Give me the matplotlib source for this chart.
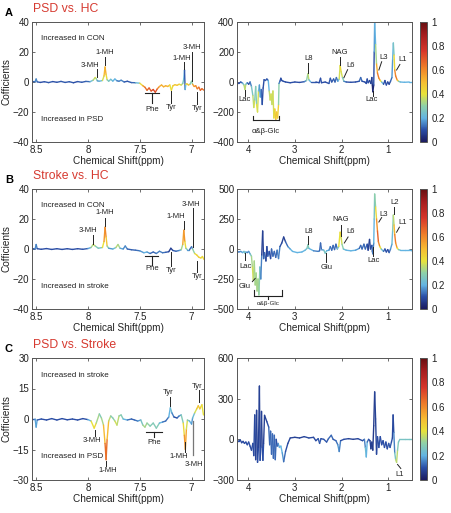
"""OPLS-DA coefficient plots (aromatic and aliphatic regions) for three comparisons."""

import matplotlib

matplotlib.use("Agg")
import matplotlib.pyplot as plt  # noqa: E402
import numpy as np  # noqa: E402
from matplotlib.collections import LineCollection  # noqa: E402
from matplotlib.colors import LinearSegmentedColormap, Normalize  # noqa: E402

plt.rcParams["font.family"] = ["Liberation Sans", "DejaVu Sans"]

# ---------------------------------------------------------------- data
# each spectrum: chemical shift (ppm), coefficient, |r| (colour)
A_aro_ppm = [
    8.54, 8.51, 8.50, 8.49, 8.46, 8.42, 8.38, 8.34, 8.30, 8.26,
    8.22, 8.18, 8.14, 8.10, 8.06, 8.02, 7.98, 7.95, 7.93, 7.92,
    7.91, 7.89, 7.86, 7.845, 7.835, 7.825, 7.815, 7.80, 7.78, 7.76,
    7.74, 7.72, 7.70, 7.68, 7.65, 7.62, 7.58, 7.54, 7.50, 7.47,
    7.45, 7.43, 7.41, 7.39, 7.37, 7.35, 7.33, 7.31, 7.29, 7.27,
    7.25, 7.23, 7.21, 7.195, 7.18, 7.16, 7.14, 7.12, 7.10, 7.085,
    7.075, 7.068, 7.062, 7.055, 7.045, 7.03, 7.015, 7.00, 6.99, 6.975,
    6.96, 6.945, 6.93, 6.915, 6.90, 6.88]
A_aro_coef = [
    0.3, 0.2, 2.0, 0.1, -0.3, 0.2, -0.4, 0.3, -0.2, 0.4,
    -0.3, 0.2, -0.5, 0.3, -0.2, 0.4, 0.2, 1.2, 3.0, 2.2,
    0.8, 0.5, 1.0, 4.0, 10.0, 5.0, 1.5, 0.5, 1.8, 0.6,
    2.0, 0.8, 0.5, 1.2, 0.0, 0.5, -0.4, -0.5, -0.8, -2.5,
    -3.5, -5.5, -4.0, -6.0, -5.0, -6.8, -4.5, -3.0, -2.0, -3.2,
    -2.5, -3.0, -2.0, -5.5, -2.5, -1.8, -2.2, -1.5, -2.0, -1.0,
    2.0, 8.0, -5.0, -1.5, -1.2, -2.0, -1.5, 0.5, -1.5, -3.0,
    -2.5, -4.5, -3.5, -5.5, -4.5, -5.5]
A_aro_corr = [
    0.12, 0.12, 0.2, 0.12, 0.1, 0.1, 0.12, 0.1, 0.1, 0.12,
    0.1, 0.12, 0.1, 0.1, 0.12, 0.1, 0.15, 0.3, 0.4, 0.38,
    0.2, 0.15, 0.3, 0.45, 0.55, 0.5, 0.35, 0.2, 0.3, 0.15,
    0.25, 0.15, 0.12, 0.2, 0.1, 0.12, 0.1, 0.15, 0.3, 0.55,
    0.6, 0.7, 0.65, 0.72, 0.7, 0.75, 0.65, 0.55, 0.5, 0.55,
    0.5, 0.55, 0.45, 0.35, 0.5, 0.45, 0.5, 0.45, 0.4, 0.3,
    0.2, 0.2, 0.02, 0.4, 0.45, 0.5, 0.45, 0.1, 0.5, 0.6,
    0.55, 0.65, 0.6, 0.7, 0.65, 0.65]

A_ali_ppm = [
    4.24, 4.20, 4.16, 4.12, 4.09, 4.07, 4.05, 4.02, 3.99, 3.96,
    3.93, 3.90, 3.88, 3.86, 3.84, 3.82, 3.80, 3.78, 3.76, 3.74,
    3.72, 3.70, 3.68, 3.66, 3.63, 3.60, 3.57, 3.55, 3.53, 3.51,
    3.49, 3.47, 3.45, 3.43, 3.41, 3.39, 3.37, 3.35, 3.34, 3.32,
    3.30, 3.28, 3.25, 3.20, 3.10, 3.00, 2.90, 2.80, 2.75, 2.72,
    2.70, 2.66, 2.55, 2.48, 2.45, 2.43, 2.35, 2.27, 2.24, 2.21,
    2.17, 2.14, 2.11, 2.08, 2.05, 2.03, 2.01, 1.98, 1.95, 1.90,
    1.80, 1.70, 1.62, 1.59, 1.56, 1.50, 1.47, 1.45, 1.43, 1.40,
    1.37, 1.35, 1.34, 1.33, 1.31, 1.30, 1.29, 1.27, 1.25, 1.23,
    1.20, 1.17, 1.14, 1.10, 1.07, 1.04, 1.01, 0.98, 0.95, 0.92,
    0.905, 0.89, 0.875, 0.86, 0.84, 0.81, 0.78, 0.74, 0.65, 0.55,
    0.49]
A_ali_coef = [
    -5, -10, 0, -8, -20, -50, -15, -5, -15, 0,
    -30, -90, -170, -120, -30, -150, -200, -60, -20, -100,
    -50, -150, -40, 15, 10, 20, 10, -60, -120, -80,
    -150, -60, -240, -180, -250, -200, -240, -150, -10, 5,
    25, 10, 5, 0, -5, 0, -3, 2, 10, 55,
    15, 0, 0, -5, 25, -5, 0, -10, 25, 0,
    20, 0, 30, 5, 20, 110, 70, 30, 5, 0,
    -2, 0, 5, 30, 5, 0, -10, 20, -5, 10,
    -10, 30, -20, -65, -20, 200, 400, 250, 120, 60,
    25, 10, 0, -15, 10, -20, 0, -15, 5, 30,
    150, 260, 180, 80, 40, 15, 5, 0, -2, 0,
    0]
A_ali_corr = [
    0.1, 0.1, 0.1, 0.15, 0.3, 0.4, 0.3, 0.15, 0.1, 0.1,
    0.2, 0.3, 0.4, 0.35, 0.2, 0.35, 0.45, 0.3, 0.15, 0.2,
    0.15, 0.1, 0.1, 0.1, 0.1, 0.12, 0.1, 0.3, 0.4, 0.35,
    0.4, 0.3, 0.45, 0.4, 0.5, 0.45, 0.5, 0.4, 0.2, 0.1,
    0.1, 0.1, 0.1, 0.1, 0.1, 0.1, 0.1, 0.1, 0.2, 0.4,
    0.3, 0.12, 0.1, 0.1, 0.1, 0.1, 0.1, 0.1, 0.12, 0.1,
    0.12, 0.1, 0.15, 0.12, 0.3, 0.45, 0.4, 0.35, 0.2, 0.1,
    0.1, 0.1, 0.1, 0.15, 0.1, 0.1, 0.1, 0.1, 0.1, 0.1,
    0.05, 0.1, 0.05, 0.02, 0.05, 0.15, 0.2, 0.2, 0.45, 0.6,
    0.65, 0.5, 0.3, 0.1, 0.1, 0.1, 0.1, 0.08, 0.1, 0.15,
    0.2, 0.2, 0.3, 0.55, 0.65, 0.6, 0.35, 0.2, 0.2, 0.2,
    0.2]

B_aro_ppm = [
    8.54, 8.51, 8.50, 8.49, 8.45, 8.40, 8.35, 8.30, 8.25, 8.20,
    8.15, 8.10, 8.05, 8.00, 7.97, 7.95, 7.93, 7.90, 7.86, 7.845,
    7.835, 7.825, 7.815, 7.80, 7.76, 7.73, 7.71, 7.69, 7.66, 7.64,
    7.62, 7.58, 7.54, 7.50, 7.46, 7.43, 7.40, 7.37, 7.34, 7.31,
    7.28, 7.25, 7.22, 7.20, 7.18, 7.15, 7.12, 7.10, 7.085, 7.075,
    7.065, 7.055, 7.04, 7.02, 7.00, 6.99, 6.97, 6.95, 6.93, 6.91,
    6.895, 6.88]
B_aro_coef = [
    0.3, 0.0, 3.0, 0.2, -0.2, 0.3, -0.3, 0.2, -0.3, 0.2,
    -0.3, 0.2, -0.2, 0.3, 1.0, 3.0, 2.0, 0.5, 1.0, 5.0,
    14.5, 8.0, 2.0, 0.5, 0.0, 1.0, 3.0, 0.5, 0.0, 2.0,
    0.0, -0.5, -0.8, -1.2, -2.5, -2.0, -3.0, -2.0, -3.0, -1.5,
    -2.5, -2.2, -1.8, 0.5, -1.0, -1.5, -1.0, -0.5, 3.0, 12.5,
    5.0, 0.5, -0.5, -0.5, 1.5, 0.0, -3.0, -4.0, -5.5, -6.0,
    -5.0, -7.0]
B_aro_corr = [
    0.1, 0.12, 0.2, 0.1, 0.1, 0.1, 0.1, 0.1, 0.1, 0.1,
    0.1, 0.1, 0.1, 0.12, 0.25, 0.4, 0.35, 0.2, 0.3, 0.5,
    0.65, 0.55, 0.4, 0.2, 0.15, 0.3, 0.4, 0.25, 0.12, 0.2,
    0.12, 0.12, 0.12, 0.15, 0.2, 0.2, 0.15, 0.1, 0.15, 0.15,
    0.15, 0.12, 0.1, 0.05, 0.1, 0.12, 0.15, 0.2, 0.45, 0.65,
    0.5, 0.35, 0.2, 0.15, 0.1, 0.2, 0.4, 0.45, 0.45, 0.45,
    0.4, 0.45]

B_ali_ppm = [
    4.24, 4.20, 4.16, 4.12, 4.09, 4.07, 4.05, 4.02, 3.99, 3.96,
    3.93, 3.91, 3.89, 3.87, 3.85, 3.83, 3.81, 3.79, 3.77, 3.75,
    3.73, 3.71, 3.69, 3.67, 3.65, 3.62, 3.60, 3.58, 3.55, 3.52,
    3.50, 3.47, 3.44, 3.41, 3.38, 3.35, 3.32, 3.28, 3.24, 3.20,
    3.15, 3.10, 3.05, 2.95, 2.85, 2.78, 2.74, 2.72, 2.70, 2.60,
    2.50, 2.47, 2.45, 2.43, 2.38, 2.35, 2.32, 2.27, 2.24, 2.21,
    2.18, 2.15, 2.12, 2.09, 2.06, 2.03, 2.01, 1.99, 1.96, 1.90,
    1.80, 1.70, 1.62, 1.59, 1.56, 1.52, 1.49, 1.45, 1.43, 1.40,
    1.38, 1.35, 1.34, 1.33, 1.31, 1.30, 1.29, 1.27, 1.25, 1.23,
    1.21, 1.18, 1.15, 1.10, 1.07, 1.04, 1.01, 0.98, 0.95, 0.92,
    0.905, 0.89, 0.875, 0.86, 0.84, 0.81, 0.78, 0.74, 0.65, 0.55,
    0.49]
B_ali_coef = [
    -20, -25, -20, -30, -20, -35, -25, -30, -20, -40,
    -60, -150, -260, -100, -300, -200, -350, -250, -383, -150,
    -250, -50, 150, -80, -30, -100, 20, -60, -20, -80,
    0, -60, -20, -70, -10, -80, 20, 50, 100, 60,
    20, 0, -20, -30, -25, -10, 5, 35, 5, -15,
    -20, -15, 50, -5, -10, -35, -15, -10, 20, -10,
    30, -5, 40, 0, 20, 140, 100, 40, 0, -10,
    -15, -10, 5, 30, 0, 40, 0, 40, -10, 80,
    0, 30, -20, -40, 50, 250, 458, 350, 250, 150,
    60, 20, 0, -20, 0, -25, -5, -30, 0, 40,
    150, 283, 200, 120, 50, 10, -5, -10, -10, -10,
    -15]
B_ali_corr = [
    0.15, 0.15, 0.15, 0.2, 0.2, 0.3, 0.2, 0.15, 0.15, 0.2,
    0.3, 0.35, 0.4, 0.3, 0.35, 0.3, 0.35, 0.3, 0.35, 0.25,
    0.2, 0.1, 0.05, 0.1, 0.15, 0.1, 0.05, 0.15, 0.1, 0.1,
    0.1, 0.15, 0.1, 0.15, 0.1, 0.2, 0.1, 0.1, 0.05, 0.1,
    0.15, 0.2, 0.2, 0.2, 0.2, 0.2, 0.25, 0.3, 0.25, 0.15,
    0.15, 0.15, 0.1, 0.15, 0.2, 0.3, 0.2, 0.2, 0.12, 0.15,
    0.1, 0.15, 0.1, 0.15, 0.35, 0.45, 0.4, 0.35, 0.25, 0.2,
    0.2, 0.2, 0.15, 0.1, 0.15, 0.1, 0.15, 0.1, 0.1, 0.05,
    0.1, 0.1, 0.1, 0.15, 0.15, 0.25, 0.25, 0.35, 0.5, 0.65,
    0.7, 0.5, 0.3, 0.15, 0.1, 0.1, 0.1, 0.1, 0.15, 0.2,
    0.25, 0.3, 0.4, 0.6, 0.65, 0.5, 0.3, 0.2, 0.2, 0.2,
    0.2]

C_aro_ppm = [
    8.54, 8.51, 8.50, 8.49, 8.45, 8.40, 8.35, 8.30, 8.25, 8.20,
    8.15, 8.10, 8.05, 8.00, 7.97, 7.94, 7.92, 7.89, 7.87, 7.85,
    7.835, 7.825, 7.815, 7.80, 7.78, 7.76, 7.74, 7.72, 7.70, 7.68,
    7.66, 7.62, 7.58, 7.55, 7.52, 7.49, 7.47, 7.45, 7.43, 7.40,
    7.37, 7.34, 7.31, 7.28, 7.25, 7.22, 7.205, 7.19, 7.17, 7.14,
    7.12, 7.10, 7.08, 7.07, 7.06, 7.05, 7.04, 7.02, 7.00, 6.99,
    6.97, 6.95, 6.935, 6.92, 6.90, 6.885]
C_aro_coef = [
    0.0, 0.0, -4.0, -0.5, 0.0, -0.5, 0.2, -0.5, 0.2, -0.4,
    0.0, -0.5, 0.2, -0.3, -1.0, -4.5, -2.0, 2.5, 0.5, -3.0,
    -12.0, -20.0, -10.0, -1.0, 1.5, 0.5, -1.0, -3.0, 1.5, 2.0,
    0.0, -0.5, 0.0, -0.5, -1.0, -0.5, -3.0, -4.0, -2.0, -3.5,
    -2.0, -4.5, -2.0, -1.5, -1.0, 1.0, 5.5, 3.0, 1.0, 0.5,
    1.5, 2.0, -2.0, -8.0, -15.0, -5.0, -0.5, -1.0, -2.5, 0.5,
    3.0, 5.0, 6.5, 5.0, 7.0, 2.0]
C_aro_corr = [
    0.1, 0.12, 0.25, 0.12, 0.1, 0.1, 0.1, 0.1, 0.1, 0.1,
    0.1, 0.1, 0.1, 0.1, 0.3, 0.5, 0.35, 0.3, 0.25, 0.4,
    0.6, 0.7, 0.6, 0.4, 0.3, 0.25, 0.35, 0.4, 0.3, 0.3,
    0.25, 0.15, 0.12, 0.12, 0.15, 0.2, 0.3, 0.35, 0.3, 0.3,
    0.25, 0.3, 0.25, 0.15, 0.12, 0.15, 0.25, 0.2, 0.1, 0.1,
    0.15, 0.2, 0.35, 0.5, 0.65, 0.45, 0.3, 0.2, 0.2, 0.15,
    0.3, 0.45, 0.5, 0.45, 0.45, 0.35]

C_ali_ppm = [
    4.24, 4.20, 4.17, 4.14, 4.11, 4.08, 4.05, 4.02, 3.99, 3.96,
    3.93, 3.90, 3.88, 3.86, 3.84, 3.82, 3.80, 3.78, 3.76, 3.745,
    3.73, 3.715, 3.70, 3.685, 3.67, 3.65, 3.60, 3.56, 3.54, 3.52,
    3.50, 3.48, 3.46, 3.44, 3.42, 3.40, 3.38, 3.36, 3.33, 3.30,
    3.27, 3.24, 3.20, 3.15, 3.10, 3.00, 2.90, 2.80, 2.70, 2.60,
    2.55, 2.50, 2.47, 2.44, 2.38, 2.32, 2.28, 2.22, 2.18, 2.12,
    2.08, 2.05, 2.02, 1.95, 1.85, 1.75, 1.65, 1.55, 1.51, 1.49,
    1.47, 1.45, 1.42, 1.39, 1.37, 1.35, 1.33, 1.31, 1.29, 1.27,
    1.25, 1.23, 1.20, 1.17, 1.14, 1.11, 1.08, 1.05, 1.02, 0.99,
    0.96, 0.93, 0.91, 0.895, 0.88, 0.86, 0.84, 0.82, 0.80, 0.78,
    0.75, 0.65, 0.55, 0.49]
C_ali_coef = [
    -10, -10, -5, -25, -15, -30, -20, -40, -20, -50,
    -80, -30, -120, 180, -150, 214, -170, -60, 393, -155,
    -50, 206, -60, -155, -30, 177, 130, 90, -40, 60,
    -110, 40, -140, 30, -150, 0, -50, -30, -60, -50,
    -100, -165, -90, -30, 10, 15, 10, 20, 10, 15,
    -10, 5, -30, 5, 0, -20, 5, 30, 0, -10,
    -40, -90, -10, 0, 5, 0, 5, -10, 0, -60,
    -130, -20, 0, -10, -70, -20, -80, 100, 350, 150,
    -110, 20, -60, 20, -40, -10, -60, -20, -70, -30,
    -60, -20, 10, 180, 50, -100, -150, -170, -80, -20,
    0, 0, 0, 0]
C_ali_corr = [
    0.1, 0.1, 0.1, 0.08, 0.1, 0.08, 0.1, 0.1, 0.1, 0.1,
    0.08, 0.1, 0.1, 0.08, 0.1, 0.05, 0.1, 0.1, 0.05, 0.1,
    0.1, 0.05, 0.1, 0.1, 0.1, 0.05, 0.1, 0.1, 0.15, 0.1,
    0.15, 0.1, 0.15, 0.1, 0.15, 0.1, 0.1, 0.15, 0.2, 0.2,
    0.2, 0.15, 0.1, 0.1, 0.08, 0.08, 0.08, 0.08, 0.1, 0.08,
    0.1, 0.1, 0.12, 0.1, 0.1, 0.12, 0.1, 0.15, 0.1, 0.12,
    0.15, 0.2, 0.1, 0.1, 0.08, 0.08, 0.08, 0.1, 0.1, 0.2,
    0.25, 0.15, 0.1, 0.1, 0.05, 0.08, 0.08, 0.05, 0.08, 0.08,
    0.08, 0.1, 0.1, 0.1, 0.1, 0.1, 0.1, 0.1, 0.1, 0.1,
    0.12, 0.1, 0.1, 0.08, 0.1, 0.2, 0.3, 0.4, 0.3, 0.25,
    0.25, 0.25, 0.25, 0.25]

titles = ["PSD vs. HC", "Stroke vs. HC", "PSD vs. Stroke"]
panel_letters = ["A", "B", "C"]
up_labels = ["Increased in CON", "Increased in CON", "Increased in stroke"]
down_labels = ["Increased in PSD", "Increased in stroke", "Increased in PSD"]
left_yticks = [[-40, -20, 0, 20, 40], [-40, -20, 0, 20, 40], [-30, -15, 0, 15, 30]]
right_yticks = [[-400, -200, 0, 200, 400], [-500, -250, 0, 250, 500], [-300, 0, 300, 600]]

# ---------------------------------------------------------------- style
W, H = 452, 513
cmap = LinearSegmentedColormap.from_list("corr", [
    (0.00, "#1b1a5e"), (0.10, "#2a4ea6"), (0.20, "#63b4e2"), (0.30, "#8fd1a8"),
    (0.40, "#e8e23a"), (0.50, "#f6bc32"), (0.62, "#ef7f29"), (0.76, "#d6352a"),
    (0.90, "#a21c1e"), (1.00, "#651012")])
norm = Normalize(0, 1)
FRAME = "#555555"


def px_axes(fig, left, top, right, bottom):
    return fig.add_axes([left / W, 1 - bottom / H, (right - left) / W, (bottom - top) / H])


def spectrum(ax, ppm, coef, corr):
    ppm, coef, corr = np.asarray(ppm), np.asarray(coef), np.asarray(corr)
    pts = np.column_stack([ppm, coef]).reshape(-1, 1, 2)
    segs = np.concatenate([pts[:-1], pts[1:]], axis=1)
    lc = LineCollection(segs, cmap=cmap, norm=norm, linewidth=1.0, capstyle="round",
                        joinstyle="round")
    lc.set_array((corr[:-1] + corr[1:]) / 2)
    ax.add_collection(lc)


def style(ax, xlim, ylim, xticks, yticks):
    ax.set_xlim(*xlim)
    ax.set_ylim(*ylim)
    ax.set_xticks(xticks)
    ax.set_yticks(yticks)
    ax.set_xticklabels([f"{t:g}" for t in xticks])
    ax.tick_params(direction="in", length=2.5, width=0.6, labelsize=7, pad=2,
                   top=True, right=True, colors=FRAME, labelcolor="#222222")
    for s in ax.spines.values():
        s.set_color(FRAME)
        s.set_linewidth(0.7)
    ax.set_xlabel("Chemical Shift(ppm)", fontsize=7.2, labelpad=1, color="#222222")


def tag(ax, text, tx, ty, x0, y0, x1, y1, size=5.5):
    ax.plot([x0, x1], [y0, y1], color="#222222", lw=0.7, clip_on=False)
    ax.text(tx, ty, text, fontsize=size, ha="center", va="center", color="#222222")


def bracket(ax, xa, xb, y, ystem, text, ty, size=5.5, up=None):
    ax.plot([xa, xb], [y, y], color="#222222", lw=0.8)
    if up is None:
        xm = (xa + xb) / 2
        ax.plot([xm, xm], [y, ystem], color="#222222", lw=0.8)
    else:
        ax.plot([xa, xa], [y, up], color="#222222", lw=0.8)
        ax.plot([xb, xb], [y, up], color="#222222", lw=0.8)
    ax.text((xa + xb) / 2, ty, text, fontsize=size, ha="center", va="center", color="#222222")


fig = plt.figure(figsize=(W / 100, H / 100), dpi=100)

rows = [(22, 142), (189, 309), (358, 480)]
spectra = [
    (A_aro_ppm, A_aro_coef, A_aro_corr, A_ali_ppm, A_ali_coef, A_ali_corr),
    (B_aro_ppm, B_aro_coef, B_aro_corr, B_ali_ppm, B_ali_coef, B_ali_corr),
    (C_aro_ppm, C_aro_coef, C_aro_corr, C_ali_ppm, C_ali_coef, C_ali_corr),
]
axes = []
for i, (top, bot) in enumerate(rows):
    axl = px_axes(fig, 32, top, 204, bot)
    axr = px_axes(fig, 237, top, 412, bot)
    cax = px_axes(fig, 420, top, 427, bot)
    ap, ac, ar, lp, lc_, lr = spectra[i]
    spectrum(axl, ap, ac, ar)
    spectrum(axr, lp, lc_, lr)
    lyt, ryt = left_yticks[i], right_yticks[i]
    style(axl, (8.54, 6.88), (lyt[0], lyt[-1]), [8.5, 8, 7.5, 7], lyt)
    style(axr, (4.24, 0.49), (ryt[0], ryt[-1]), [4, 3, 2, 1], ryt)
    axl.set_ylabel("Cofficients", fontsize=7.2, labelpad=1, color="#222222")
    span = lyt[-1] - lyt[0]
    axl.text(8.455, lyt[-1] - span * 0.14, up_labels[i], fontsize=5.8, va="center",
             color="#222222")
    axl.text(8.455, lyt[0] + span * 0.19, down_labels[i], fontsize=5.8, va="center",
             color="#222222")
    cb = fig.colorbar(plt.cm.ScalarMappable(norm=norm, cmap=cmap), cax=cax,
                      ticks=[0, 0.2, 0.4, 0.6, 0.8, 1])
    cb.ax.set_yticklabels(["0", "0.2", "0.4", "0.6", "0.8", "1"])
    cb.ax.tick_params(labelsize=7, length=0, pad=3, labelcolor="#222222")
    cb.outline.set_edgecolor(FRAME)
    cb.outline.set_linewidth(0.7)
    fig.text(5 / W, 1 - (top - 9) / H, panel_letters[i], fontsize=8, fontweight="bold",
             va="center", ha="left")
    fig.text(33 / W, 1 - (top - 13) / H, titles[i], fontsize=8.8, color="#d63a30",
             va="center", ha="left")
    axes.append((axl, axr))

# ---------------------------------------------------------------- labels A
axl, axr = axes[0]
tag(axl, "3-MH", 7.98, 11, 7.915, 8.5, 7.915, 3.5)
tag(axl, "1-MH", 7.84, 19.5, 7.835, 16.8, 7.835, 11.5)
bracket(axl, 7.445, 7.31, -7, -14, "Phe", -18.5)
tag(axl, "Tyr", 7.195, -17, 7.195, -6, 7.195, -14)
tag(axl, "1-MH", 7.09, 16, 7.072, 13.2, 7.072, 8.5)
tag(axl, "3-MH", 7.0, 23, 7.0, 20.2, 7.0, 1.0)
tag(axl, "Tyr", 6.945, -18, 6.945, -6.5, 6.945, -14.5)
tag(axr, "Lac", 4.07, -118, 4.07, -50, 4.07, -90)
bracket(axr, 3.89, 3.34, -255, None, "α&β-Glc", -330, size=5.5, up=-225)
tag(axr, "L8", 2.71, 160, 2.71, 128, 2.71, 62)
tag(axr, "NAG", 2.03, 198, 2.03, 168, 2.03, 115)
tag(axr, "L6", 1.8, 110, 1.87, 82, 1.95, 28)
tag(axr, "Lac", 1.36, -118, 1.335, -60, 1.335, -90)
tag(axr, "L3", 1.09, 165, 1.14, 135, 1.2, 80)
tag(axr, "L1", 0.7, 148, 0.75, 117, 0.82, 80)

# ---------------------------------------------------------------- labels B
axl, axr = axes[1]
tag(axl, "3-MH", 8.0, 12, 7.95, 9.2, 7.95, 3.5)
tag(axl, "1-MH", 7.835, 24, 7.835, 21, 7.835, 15.5)
bracket(axl, 7.445, 7.32, -4.7, -10.5, "Phe", -13)
tag(axl, "Tyr", 7.195, -14.5, 7.195, -2, 7.195, -11)
tag(axl, "1-MH", 7.15, 21.5, 7.075, 19, 7.075, 13.5)
tag(axl, "3-MH", 7.01, 30, 6.99, 27.5, 6.99, 1.5)
tag(axl, "Tyr", 6.95, -18.5, 6.95, -7.8, 6.95, -15)
tag(axr, "Lac", 4.06, -148, 4.07, -33, 4.07, -95)
tag(axr, "Glu", 4.08, -314, 3.91, -272, 3.85, -245)
bracket(axr, 3.87, 3.28, -392, None, "α&β-Glc", -455, size=4.5, up=-342)
axr.plot([3.58, 3.58], [-392, -415], color="#222222", lw=0.8)
tag(axr, "L8", 2.7, 144, 2.71, 108, 2.71, 42)
tag(axr, "Glu", 2.32, -156, 2.33, -35, 2.33, -108)
tag(axr, "NAG", 2.02, 242, 2.02, 200, 2.02, 108)
tag(axr, "L6", 1.8, 144, 1.86, 100, 1.94, 50)
tag(axr, "Lac", 1.31, -92, 1.32, 20, 1.32, -60)
tag(axr, "L3", 1.09, 290, 1.14, 262, 1.2, 225)
tag(axr, "L2", 0.86, 389, 0.87, 350, 0.87, 290)
tag(axr, "L1", 0.7, 219, 0.76, 182, 0.82, 140)

# ---------------------------------------------------------------- labels C
axl, axr = axes[2]
tag(axl, "3-MH", 7.96, -10.5, 7.935, -5.5, 7.935, -8.3)
tag(axl, "1-MH", 7.81, -25.5, 7.825, -20.5, 7.825, -23)
bracket(axl, 7.436, 7.29, -6.2, -8.7, "Phe", -11.5)
tag(axl, "Tyr", 7.225, 12.8, 7.205, 10.8, 7.205, 6.5)
tag(axl, "1-MH", 7.125, -18.5, 7.06, -11.5, 7.06, -16)
axl.plot([6.99, 6.99], [-1, -17.8], color="#777777", lw=0.9)
axl.text(6.975, -22.3, "3-MH", fontsize=5.5, ha="center", va="center", color="#222222")
tag(axl, "Tyr", 6.945, 16, 6.93, 14.3, 6.93, 8.4)
tag(axr, "L1", 0.76, -258, 0.8, -185, 0.73, -215)

fig.savefig("out.png", dpi=100)
